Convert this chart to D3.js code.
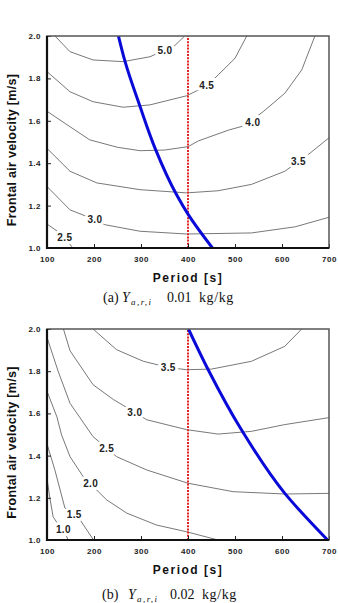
<!DOCTYPE html>
<html>
<head>
<meta charset="utf-8">
<script src="https://cdn.jsdelivr.net/npm/d3@7"></script>
<style>
  body { margin: 0; background: #fff; }
  svg { display: block; }
</style>
</head>
<body>
<div id="chart"></div>
<script>
// Values: points are [period s, frontal velocity m/s]

var xTicks = [100, 200, 300, 400, 500, 600, 700];
var yTicks = [1.0, 1.2, 1.4, 1.6, 1.8, 2.0];

// (a) Y = 0.01 kg/kg
var levelsA = ["5.0", "4.5", "4.0", "3.5", "3.0", "2.5"];
var contoursA = [
  [[117, 2.0], [149, 1.926], [198, 1.887], [262, 1.879], [319, 1.902], [372, 1.955], [393, 2.0]],
  [[100, 1.832], [149, 1.737], [198, 1.69], [262, 1.664], [319, 1.675], [397, 1.718], [440, 1.765], [464, 1.816], [500, 1.895], [525, 2.0]],
  [[100, 1.645], [149, 1.572], [191, 1.51], [250, 1.475], [298, 1.459], [350, 1.462], [400, 1.478], [422, 1.505], [486, 1.556], [517, 1.575], [560, 1.643], [606, 1.73], [642, 1.84], [670, 2.0]],
  [[100, 1.47], [149, 1.362], [206, 1.307], [298, 1.275], [397, 1.26], [464, 1.27], [535, 1.3], [606, 1.362], [660, 1.448], [700, 1.52]],
  [[100, 1.29], [149, 1.18], [200, 1.135], [223, 1.11], [298, 1.079], [397, 1.066], [535, 1.071], [628, 1.1], [700, 1.145]],
  [[100, 1.113], [128, 1.07], [138, 1.05], [152, 1.008], [155, 1.0]]
];
var labelAtA = [[351, 1.932], [440, 1.767], [538, 1.592], [635, 1.408], [202, 1.136], [138, 1.048]];
var optimumA = [[252, 2.0], [266, 1.88], [298, 1.667], [330, 1.47], [376, 1.25], [401, 1.156], [452, 1.0]];

// (b) Y = 0.02 kg/kg
var levelsB = ["3.5", "3.0", "2.5", "2.0", "1.5", "1.0"];
var contoursB = [
  [[198, 2.0], [248, 1.902], [305, 1.847], [358, 1.818], [397, 1.807], [450, 1.81], [535, 1.847], [606, 1.918], [642, 2.0]],
  [[135, 2.0], [149, 1.897], [198, 1.736], [241, 1.666], [287, 1.605], [312, 1.57], [397, 1.523], [464, 1.502], [535, 1.515], [606, 1.547], [700, 1.58]],
  [[100, 1.96], [124, 1.798], [149, 1.648], [198, 1.49], [248, 1.395], [312, 1.332], [400, 1.269], [496, 1.229], [606, 1.218], [700, 1.221]],
  [[100, 1.705], [121, 1.584], [131, 1.498], [149, 1.395], [177, 1.3], [227, 1.19], [270, 1.127], [333, 1.071], [397, 1.039], [464, 1.0]],
  [[100, 1.455], [117, 1.33], [138, 1.152], [155, 1.122], [170, 1.097], [199, 1.0]],
  [[100, 1.29], [106, 1.2], [113, 1.11], [125, 1.07], [135, 1.05], [142, 1.015], [145, 1.0]]
];
var labelAtB = [[358, 1.818], [287, 1.605], [227, 1.436], [193, 1.269], [158, 1.12], [135, 1.052]];
var optimumB = [[401, 2.0], [443, 1.807], [514, 1.521], [606, 1.221], [697, 1.0]];

var designPeriod = 400;

var W = 338, H = 603;
var left = 47, right = 329;

var svg = d3.select("#chart")
  .append("svg")
  .attr("width", W)
  .attr("height", H);

var x = d3.scaleLinear()
  .domain([100, 700])
  .range([left, right]);

function drawPanel(p) {
  var y = d3.scaleLinear()
    .domain([1, 2])
    .range([p.bottom, p.top]);

  var g = svg.append("g");

  g.append("clipPath")
    .attr("id", p.id)
    .append("rect")
    .attr("x", left)
    .attr("y", p.top)
    .attr("width", right - left)
    .attr("height", p.bottom - p.top);

  var plot = g.append("g").attr("clip-path", "url(#" + p.id + ")");

  var line = d3.line()
    .x(function (d) { return x(d[0]) })
    .y(function (d) { return y(d[1]) });

  // contour lines
  plot.selectAll("path.contour")
    .data(p.contours)
    .enter()
    .append("path")
    .attr("class", "contour")
    .attr("d", line)
    .attr("fill", "none")
    .attr("stroke", "#555")
    .attr("stroke-width", 0.8);

  // contour labels, white halo breaks the line
  plot.selectAll("text.lvl")
    .data(p.levels)
    .enter()
    .append("text")
    .attr("class", "lvl")
    .attr("x", function (d, i) { return x(p.labelAt[i][0]) })
    .attr("y", function (d, i) { return y(p.labelAt[i][1]) })
    .attr("dy", "0.36em")
    .attr("text-anchor", "middle")
    .style("font-family", "'Liberation Sans', Arial, sans-serif")
    .style("font-weight", "bold")
    .style("font-size", "10px")
    .style("letter-spacing", "0.4px")
    .style("fill", "#222")
    .style("stroke", "#fff")
    .style("stroke-width", 6)
    .style("paint-order", "stroke")
    .text(function (d) { return d });

  // design period (dotted red)
  plot.append("line")
    .attr("x1", x(designPeriod))
    .attr("x2", x(designPeriod))
    .attr("y1", y(1))
    .attr("y2", y(2))
    .attr("stroke", "#e02424")
    .attr("stroke-width", 2)
    .attr("stroke-dasharray", "2,1.2");

  // optimum curve (blue)
  plot.append("path")
    .attr("d", line.curve(d3.curveMonotoneY)(p.optimum))
    .attr("fill", "none")
    .attr("stroke", "#0a0ad8")
    .attr("stroke-width", 3);

  // axes, ticks pointing inward
  var xAxis = g.append("g")
    .attr("transform", "translate(0," + p.bottom + ")")
    .call(d3.axisBottom(x)
      .tickValues(xTicks)
      .tickSizeInner(-4)
      .tickSizeOuter(0)
      .tickPadding(8));

  var yAxis = g.append("g")
    .attr("transform", "translate(" + left + ",0)")
    .call(d3.axisLeft(y)
      .tickValues(yTicks)
      .tickFormat(d3.format(".1f"))
      .tickSizeInner(-4)
      .tickSizeOuter(0)
      .tickPadding(6));

  [xAxis, yAxis].forEach(function (a) {
    a.select(".domain").remove();
    a.selectAll("line").attr("stroke", "#222").attr("stroke-width", 1);
    a.selectAll("text")
      .style("font-family", "'Liberation Sans', Arial, sans-serif")
      .style("font-weight", "bold")
      .style("font-size", "8px")
      .style("letter-spacing", "0.5px")
      .style("fill", "#222");
  });

  // frame
  g.append("rect")
    .attr("x", left)
    .attr("y", p.top)
    .attr("width", right - left)
    .attr("height", p.bottom - p.top)
    .attr("fill", "none")
    .attr("stroke", "#555")
    .attr("stroke-width", 1.5);

  g.append("path")
    .attr("d", "M" + left + "," + p.top + "V" + p.bottom + "H" + right)
    .attr("fill", "none")
    .attr("stroke", "#111")
    .attr("stroke-width", 2.2);

  // axis titles
  g.append("text")
    .attr("x", (left + right) / 2)
    .attr("y", p.bottom + 33.5)
    .attr("text-anchor", "middle")
    .style("font-family", "'Liberation Sans', Arial, sans-serif")
    .style("font-weight", "bold")
    .style("font-size", "12px")
    .style("letter-spacing", "1.5px")
    .style("fill", "#111")
    .text("Period [s]");

  g.append("text")
    .attr("transform", "translate(16," + ((p.top + p.bottom) / 2 + 8) + ") rotate(-90)")
    .attr("text-anchor", "middle")
    .style("font-family", "'Liberation Sans', Arial, sans-serif")
    .style("font-weight", "bold")
    .style("font-size", "12.5px")
    .style("letter-spacing", "0.3px")
    .style("fill", "#111")
    .text("Frontal air velocity [m/s]");

  // caption
  var cap = g.append("text")
    .attr("y", p.captionY)
    .style("font-family", "'Liberation Serif', 'Times New Roman', serif")
    .style("font-size", "14px")
    .style("fill", "#111");
  cap.append("tspan").attr("x", p.capX[0]).text(p.tag);
  cap.append("tspan").attr("x", p.capX[1]).style("font-style", "italic").text("Y");
  cap.append("tspan")
    .attr("x", p.capX[1] + 9)
    .attr("dy", 3)
    .style("font-style", "italic")
    .style("font-size", "9px")
    .style("letter-spacing", "1.5px")
    .text("a,r,i");
  cap.append("tspan").attr("x", p.capX[2]).attr("dy", -3).text(p.ratio);
  cap.append("tspan").attr("x", p.capX[3]).style("letter-spacing", "0.6px").text("kg/kg");
}

drawPanel({
  id: "clipA", top: 36, bottom: 248, captionY: 301.5,
  tag: "(a)", ratio: "0.01", capX: [103, 122, 167, 199],
  levels: levelsA, contours: contoursA, labelAt: labelAtA, optimum: optimumA
});

drawPanel({
  id: "clipB", top: 329, bottom: 540, captionY: 599,
  tag: "(b)", ratio: "0.02", capX: [102, 128, 170, 202],
  levels: levelsB, contours: contoursB, labelAt: labelAtB, optimum: optimumB
});
</script>
</body>
</html>
